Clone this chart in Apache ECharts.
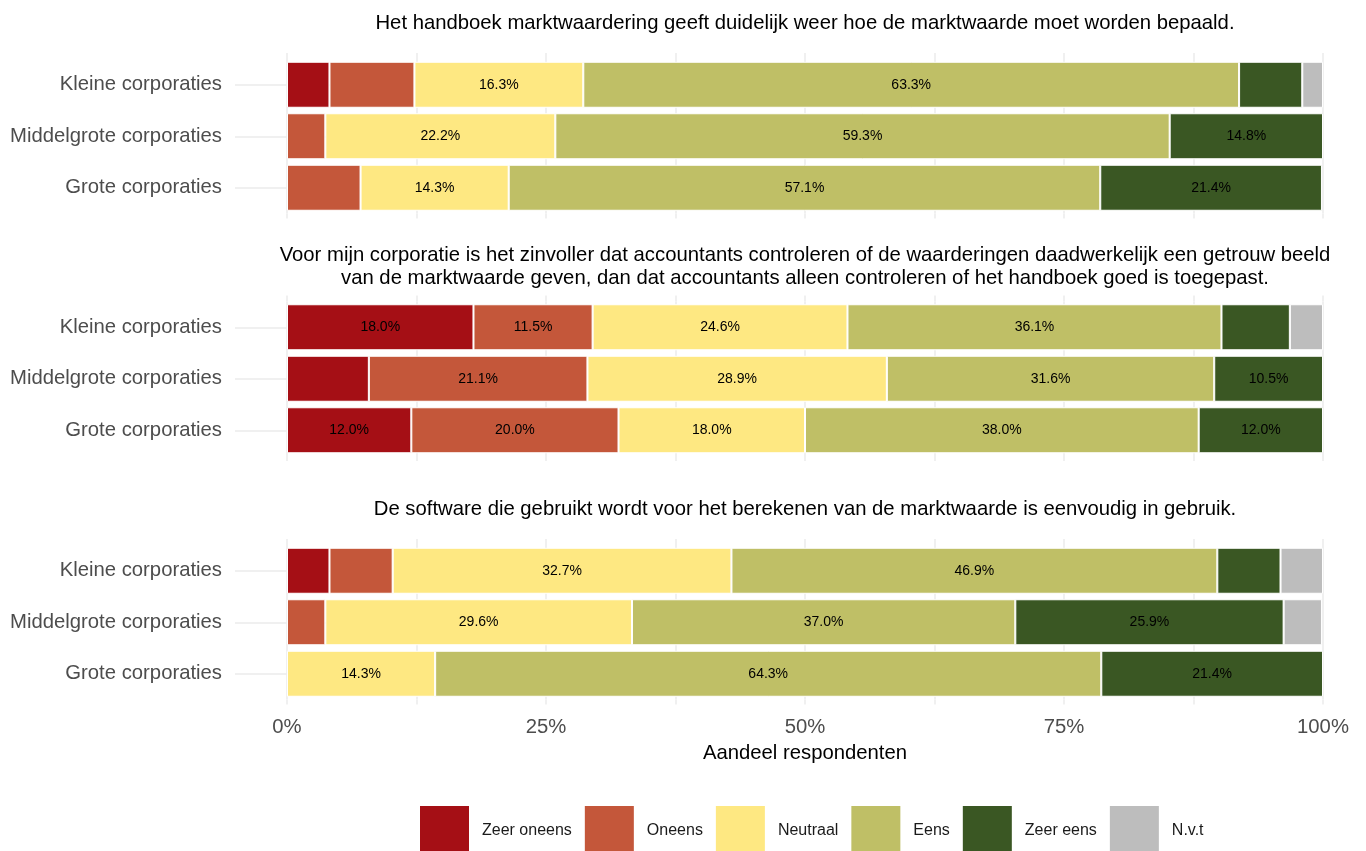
<!DOCTYPE html>
<html>
<head>
<meta charset="utf-8">
<script src="https://cdn.jsdelivr.net/npm/echarts@6/dist/echarts.min.js"></script>
<style>
html,body{margin:0;padding:0;background:#fff;}
#chart{width:1366px;height:851px;}
</style>
</head>
<body>
<div id="chart"></div>
<script>
// ---- data ----
const categories = ['Kleine corporaties', 'Middelgrote corporaties', 'Grote corporaties'];
const answers = ['Zeer oneens', 'Oneens', 'Neutraal', 'Eens', 'Zeer eens', 'N.v.t'];
const answerColors = ['#a50f15', '#c4573a', '#fee882', '#bfbf66', '#3a5723', '#bdbdbd'];
const panelTitles = [
  'Het handboek marktwaardering geeft duidelijk weer hoe de marktwaarde moet worden bepaald.',
  'Voor mijn corporatie is het zinvoller dat accountants controleren of de waarderingen daadwerkelijk een getrouw beeld\nvan de marktwaarde geven, dan dat accountants alleen controleren of het handboek goed is toegepast.',
  'De software die gebruikt wordt voor het berekenen van de marktwaarde is eenvoudig in gebruik.'
];
const xTickLabels = ['0%', '25%', '50%', '75%', '100%'];
const axisTitle = 'Aandeel respondenten';

// percentages per answer: [Zeer oneens, Oneens, Neutraal, Eens, Zeer eens, N.v.t]
const panel1Kleine = [4.1, 8.2, 16.3, 63.3, 6.1, 2.0];
const panel1Middel = [0, 3.7, 22.2, 59.3, 14.8, 0];
const panel1Grote  = [0, 7.1, 14.3, 57.1, 21.4, 0];

const panel2Kleine = [18.0, 11.5, 24.6, 36.1, 6.6, 3.2];
const panel2Middel = [7.9, 21.1, 28.9, 31.6, 10.5, 0];
const panel2Grote  = [12.0, 20.0, 18.0, 38.0, 12.0, 0];

const panel3Kleine = [4.1, 6.1, 32.7, 46.9, 6.1, 4.1];
const panel3Middel = [0, 3.7, 29.6, 37.0, 25.9, 3.7];
const panel3Grote  = [0, 0, 14.3, 64.3, 21.4, 0];

const panels = [
  [panel1Kleine, panel1Middel, panel1Grote],
  [panel2Kleine, panel2Middel, panel2Grote],
  [panel3Kleine, panel3Middel, panel3Grote]
];

// ---- layout ----
const FONT = '"Liberation Sans", Arial, sans-serif';
const FS = 20.3;
const gridTops = [59, 301.5, 545];
const gridHeight = 154.5;
const gridLeft = 287, gridRight = 43;
const titleTops = [12, 244, 497.5];
const GRID_COLOR = '#ebebeb';

const grids = [], xAxes = [], yAxes = [], series = [], titles = [];

panels.forEach((panel, p) => {
  grids.push({left: gridLeft, right: gridRight, top: gridTops[p], height: gridHeight, containLabel: false});
  titles.push({
    text: panelTitles[p], left: 805, top: titleTops[p], textAlign: 'center', padding: 0,
    textStyle: {fontFamily: FONT, fontSize: FS, fontWeight: 'normal', color: '#000', lineHeight: 23}
  });
  const isLast = p === panels.length - 1;
  // bottom value axis (series axis)
  xAxes.push({
    gridIndex: p, type: 'value', position: 'bottom', min: 0, max: 100, interval: 12.5,
    axisLine: {show: false},
    axisTick: {show: true, length: 5, lineStyle: {color: GRID_COLOR, width: 1.5}},
    splitLine: {show: true, lineStyle: {color: GRID_COLOR, width: 1.5}},
    axisLabel: {
      show: isLast, margin: 18, color: '#4d4d4d', fontSize: FS, fontFamily: FONT,
      formatter: v => (v % 25 === 0 ? xTickLabels[v / 25] : '')
    },
    name: isLast ? axisTitle : '', nameLocation: 'middle', nameGap: 44,
    nameTextStyle: {color: '#000', fontSize: FS, fontFamily: FONT}
  });
  // top helper axis (gridline extension)
  xAxes.push({
    gridIndex: p, type: 'value', position: 'top', min: 0, max: 100, interval: 12.5,
    axisLine: {show: false},
    axisTick: {show: true, length: 6, lineStyle: {color: GRID_COLOR, width: 1.5}},
    splitLine: {show: false}, axisLabel: {show: false}
  });
  // left category axis
  yAxes.push({
    gridIndex: p, type: 'category', data: categories, inverse: true, position: 'left',
    axisLine: {show: false},
    axisTick: {show: true, alignWithLabel: true, length: 52, lineStyle: {color: GRID_COLOR, width: 1.5}},
    axisLabel: {color: '#4d4d4d', fontSize: FS, fontFamily: FONT, margin: 65, padding: [8, 0, 0, 0]},
    splitLine: {show: false}
  });
  // right helper category axis (gridline extension)
  yAxes.push({
    gridIndex: p, type: 'category', data: categories, inverse: true, position: 'right',
    axisLine: {show: false},
    axisTick: {show: true, alignWithLabel: true, length: 45, lineStyle: {color: GRID_COLOR, width: 1.5}},
    axisLabel: {show: false}, splitLine: {show: false}
  });
  answers.forEach((ans, a) => {
    series.push({
      name: ans, type: 'bar', stack: 'panel' + p,
      xAxisIndex: p * 2, yAxisIndex: p * 2,
      barWidth: 46,
      data: panel.map(row => (row[a] === 0 ? '-' : row[a])),
      itemStyle: {color: answerColors[a], borderColor: '#ffffff', borderWidth: 1},
      label: {
        show: true, position: 'inside', color: '#000', fontSize: 14, fontFamily: FONT,
        formatter: prm => (prm.value >= 10 ? prm.value.toFixed(1) + '%' : '')
      },
      emphasis: {disabled: true}
    });
  });
});

const chart = echarts.init(document.getElementById('chart'), null, {renderer: 'canvas'});
chart.setOption({
  animation: false,
  backgroundColor: '#fff',
  textStyle: {fontFamily: FONT},
  title: titles,
  grid: grids,
  xAxis: xAxes,
  yAxis: yAxes,
  legend: {
    data: answers, left: 420, top: 806, padding: 0,
    itemWidth: 49, itemHeight: 49, itemGap: 13, icon: 'rect',
    selectedMode: false,
    itemStyle: {borderWidth: 0},
    textStyle: {color: '#1a1a1a', fontSize: 16, fontFamily: FONT, padding: [0, 0, 0, 8]}
  },
  series: series
});
</script>
</body>
</html>
